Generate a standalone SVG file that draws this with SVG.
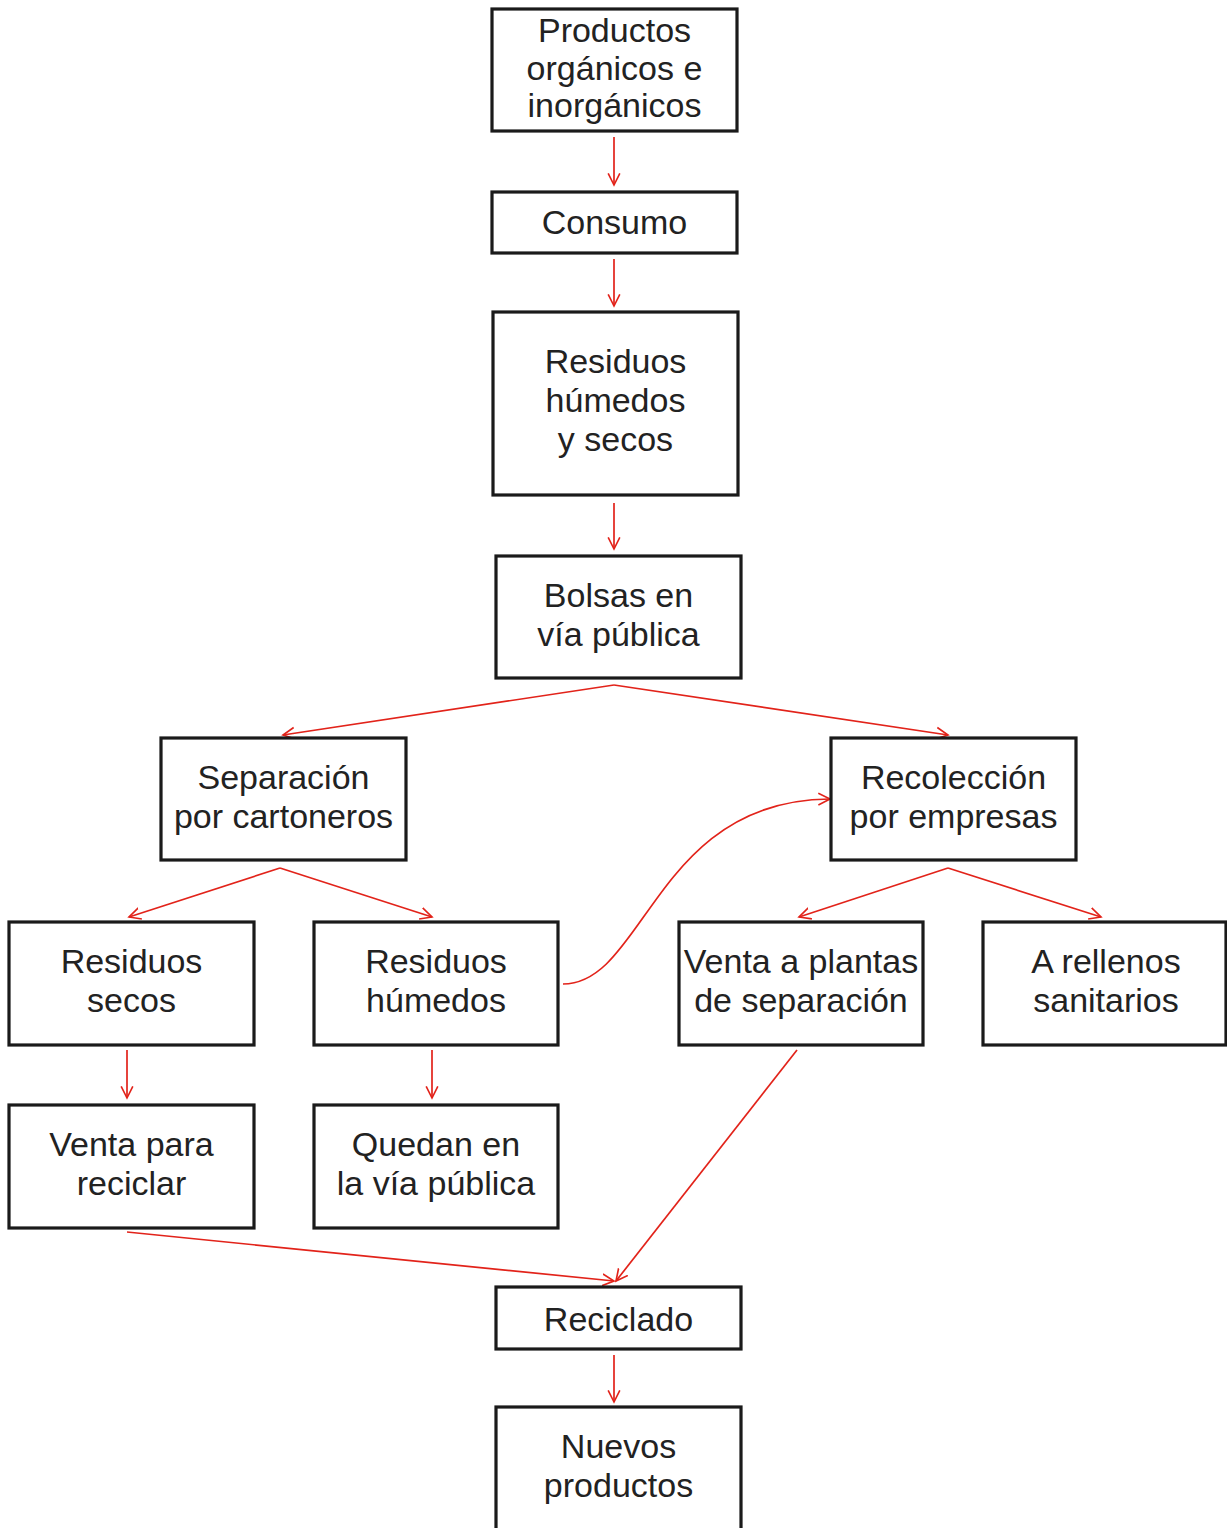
<svg xmlns="http://www.w3.org/2000/svg" width="1227" height="1528" viewBox="0 0 1227 1528">
<style>
.box rect{fill:#fff;stroke:#1a1a1a;stroke-width:3.2}
.box text{font-family:"Liberation Sans",Arial,sans-serif;font-size:34px;fill:#222;text-anchor:middle}
.conn path{fill:none;stroke:#e2231a;stroke-width:1.7}
</style>
<defs>
<marker id="ah" markerWidth="14" markerHeight="14" refX="10" refY="5" orient="auto" markerUnits="userSpaceOnUse" viewBox="0 0 12 10">
<path d="M0,0 L10,5 L0,10" fill="none" stroke="#e2231a" stroke-width="1.4"/>
</marker>
</defs>
<rect width="1227" height="1528" fill="#fff"/>
<g class="conn">
<path d="M614,137 L614,185" marker-end="url(#ah)"/>
<path d="M614,259 L614,306" marker-end="url(#ah)"/>
<path d="M614,503 L614,549" marker-end="url(#ah)"/>
<path d="M614,685 L283,735" marker-end="url(#ah)"/>
<path d="M614,685 L948,735" marker-end="url(#ah)"/>
<path d="M280,868 L129,917" marker-end="url(#ah)"/>
<path d="M280,868 L432,917" marker-end="url(#ah)"/>
<path d="M948,868 L799,917" marker-end="url(#ah)"/>
<path d="M948,868 L1101,917" marker-end="url(#ah)"/>
<path d="M127,1050 L127,1098" marker-end="url(#ah)"/>
<path d="M432,1050 L432,1098" marker-end="url(#ah)"/>
<path d="M563,984 C645,984 655,800 830,799" marker-end="url(#ah)"/>
<path d="M797,1050 L616,1281" marker-end="url(#ah)"/>
<path d="M127,1232 L614,1281" marker-end="url(#ah)"/>
<path d="M614,1355 L614,1402" marker-end="url(#ah)"/>
</g>
<g id="n1" class="box"><rect x="492" y="9" width="245" height="122"/><text x="614.5" y="42">Productos</text><text x="614.5" y="80">orgánicos e</text><text x="614.5" y="117">inorgánicos</text></g>
<g id="n2" class="box"><rect x="492" y="192" width="245" height="61"/><text x="614.5" y="234">Consumo</text></g>
<g id="n3" class="box"><rect x="493" y="312" width="245" height="183"/><text x="615.5" y="373">Residuos</text><text x="615.5" y="412">húmedos</text><text x="615.5" y="451">y secos</text></g>
<g id="n4" class="box"><rect x="496" y="556" width="245" height="122"/><text x="618.5" y="607">Bolsas en</text><text x="618.5" y="646">vía pública</text></g>
<g id="n5" class="box"><rect x="161" y="738" width="245" height="122"/><text x="283.5" y="789">Separación</text><text x="283.5" y="828">por cartoneros</text></g>
<g id="n6" class="box"><rect x="831" y="738" width="245" height="122"/><text x="953.5" y="789">Recolección</text><text x="953.5" y="828">por empresas</text></g>
<g id="n7" class="box"><rect x="9" y="922" width="245" height="123"/><text x="131.5" y="973">Residuos</text><text x="131.5" y="1012">secos</text></g>
<g id="n8" class="box"><rect x="314" y="922" width="244" height="123"/><text x="436" y="973">Residuos</text><text x="436" y="1012">húmedos</text></g>
<g id="n9" class="box"><rect x="679" y="922" width="244" height="123"/><text x="801" y="973">Venta a plantas</text><text x="801" y="1012">de separación</text></g>
<g id="n10" class="box"><rect x="983" y="922" width="243" height="123"/><text x="1106" y="973">A rellenos</text><text x="1106" y="1012">sanitarios</text></g>
<g id="n11" class="box"><rect x="9" y="1105" width="245" height="123"/><text x="131.5" y="1156">Venta para</text><text x="131.5" y="1195">reciclar</text></g>
<g id="n12" class="box"><rect x="314" y="1105" width="244" height="123"/><text x="436" y="1156">Quedan en</text><text x="436" y="1195">la vía pública</text></g>
<g id="n13" class="box"><rect x="496" y="1287" width="245" height="62"/><text x="618.5" y="1331">Reciclado</text></g>
<g id="n14" class="box"><rect x="496" y="1407" width="245" height="125"/><text x="618.5" y="1458">Nuevos</text><text x="618.5" y="1497">productos</text></g>
</svg>
